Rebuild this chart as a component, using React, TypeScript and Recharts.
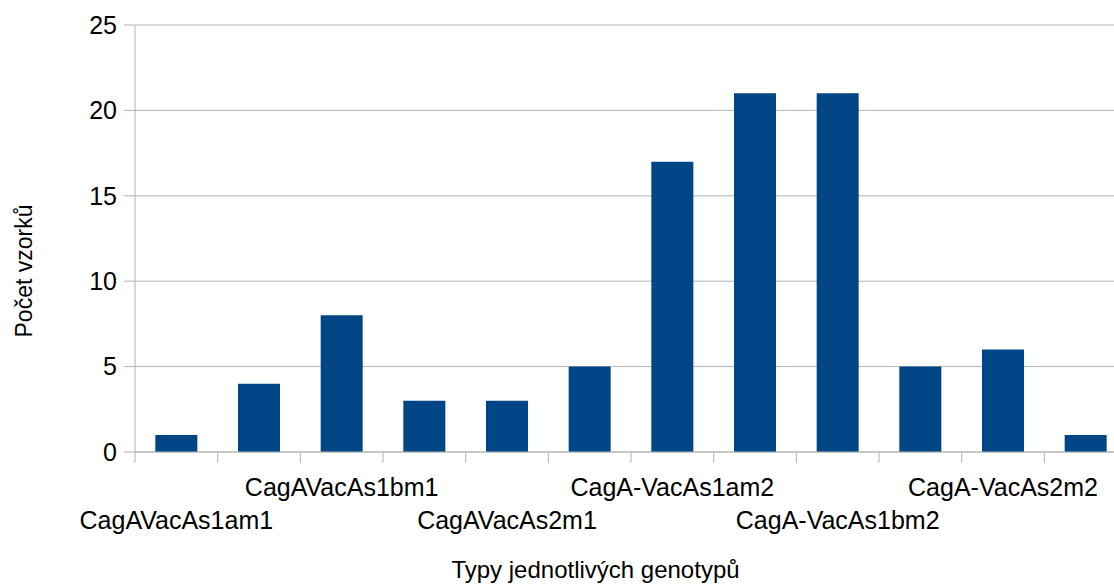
import React from 'react';
import { BarChart, Bar, XAxis, YAxis, CartesianGrid, Label } from 'recharts';

// Genotype categories, in plotting order
const categories = [
  'CagAVacAs1am1',
  'CagAVacAs1am2',
  'CagAVacAs1bm1',
  'CagAVacAs1bm2',
  'CagAVacAs2m1',
  'CagA-VacAs1am1',
  'CagA-VacAs1am2',
  'CagA-VacAs1bm1',
  'CagA-VacAs1bm2',
  'CagA-VacAs2m1',
  'CagA-VacAs2m2',
  'CagAVacAs2m2',
];

// Number of samples per genotype
const counts = [1, 4, 8, 3, 3, 5, 17, 21, 21, 5, 6, 1];

const yTicks = [0, 5, 10, 15, 20, 25];

const xTitle = 'Typy jednotlivých genotypů';
const yTitle = 'Počet vzorků';

const data = categories.map((name, i) => ({ name, count: counts[i] }));

const FONT = '"Liberation Sans", Arial, sans-serif';
const GRID = '#b3b3b3';
const BAR = '#004586';

// Separator mark at the left edge of each category band; every other
// category label is written, alternating between two rows
function CategoryTick(props: any) {
  const { x, y, payload, index, width, visibleTicksCount } = props;
  const half = width / visibleTicksCount / 2;
  const left = x - half;
  const showLabel = index % 2 === 0;
  const upper = index % 4 === 2;
  return (
    <g>
      <line x1={left} x2={left} y1={y} y2={y + 11} stroke={GRID} strokeWidth={1} />
      {index === visibleTicksCount - 1 && (
        <line x1={x + half} x2={x + half} y1={y} y2={y + 11} stroke={GRID} strokeWidth={1} />
      )}
      {showLabel && (
        <text
          x={x}
          y={y + (upper ? 44 : 77)}
          textAnchor="middle"
          fontSize={25}
          fill="#000"
          fontFamily={FONT}
        >
          {payload.value}
        </text>
      )}
    </g>
  );
}

export default function App() {
  return (
    <div
      style={{
        position: 'absolute',
        left: 0,
        top: 0,
        width: 1114,
        height: 586,
        overflow: 'hidden',
        background: '#fff',
        fontFamily: FONT,
      }}
    >
      <BarChart
        width={1130}
        height={586}
        data={data}
        margin={{ top: 25, right: 3, bottom: 0, left: 0 }}
        barCategoryGap="24.6%"
      >
        <CartesianGrid horizontal vertical={false} stroke={GRID} strokeWidth={1} />
        <XAxis
          dataKey="name"
          type="category"
          height={134}
          axisLine={{ stroke: GRID, strokeWidth: 1 }}
          tickLine={false}
          tickSize={0}
          tickMargin={0}
          interval={0}
          tick={<CategoryTick />}
        >
          <Label
            content={() => (
              <text x={595.5} y={578} textAnchor="middle" fontSize={24} fill="#000" fontFamily={FONT}>
                {xTitle}
              </text>
            )}
          />
        </XAxis>
        <YAxis
          width={135}
          type="number"
          domain={[0, 25]}
          ticks={yTicks}
          interval={0}
          tickSize={11}
          tickMargin={7}
          axisLine={{ stroke: GRID, strokeWidth: 1 }}
          tickLine={{ stroke: GRID, strokeWidth: 1 }}
          tick={{ fontSize: 25, fill: '#000', fontFamily: FONT }}
        >
          <Label
            content={() => (
              <text
                x={31.5}
                y={271}
                transform="rotate(-90 31.5 271)"
                textAnchor="middle"
                fontSize={23}
                fill="#000"
                fontFamily={FONT}
              >
                {yTitle}
              </text>
            )}
          />
        </YAxis>
        <Bar dataKey="count" fill={BAR} isAnimationActive={false} />
      </BarChart>
    </div>
  );
}
